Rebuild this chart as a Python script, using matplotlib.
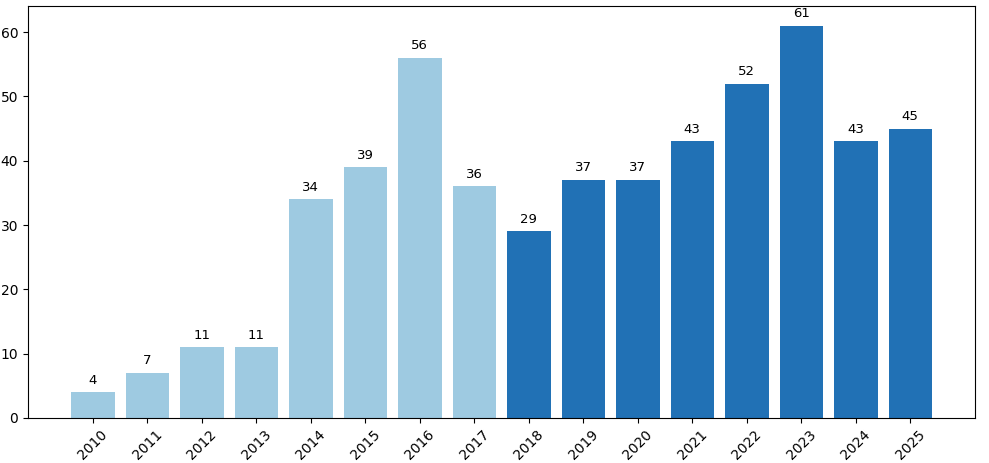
import matplotlib
matplotlib.use("Agg")
import matplotlib.pyplot as plt

years = [str(y) for y in range(2010, 2026)]
counts = [4, 7, 11, 11, 34, 39, 56, 36, 29, 37, 37, 43, 52, 61, 43, 45]
light_years = years[:8]
color_light = "#9ecae1"
color_dark = "#2171b5"

colors = [color_light if y in light_years else color_dark for y in years]

fig = plt.figure(figsize=(9.89, 4.63), dpi=100)
ax = fig.add_axes([0.0283, 0.0972, 0.9577, 0.8898])
bars = ax.bar(years, counts, color=colors, width=0.8)
ax.bar_label(bars, padding=4, fontsize=9.5)
ax.tick_params(axis="both", labelsize=10)
for lbl in ax.get_xticklabels():
    lbl.set_rotation(45)
fig.savefig("out.png", dpi=100)
